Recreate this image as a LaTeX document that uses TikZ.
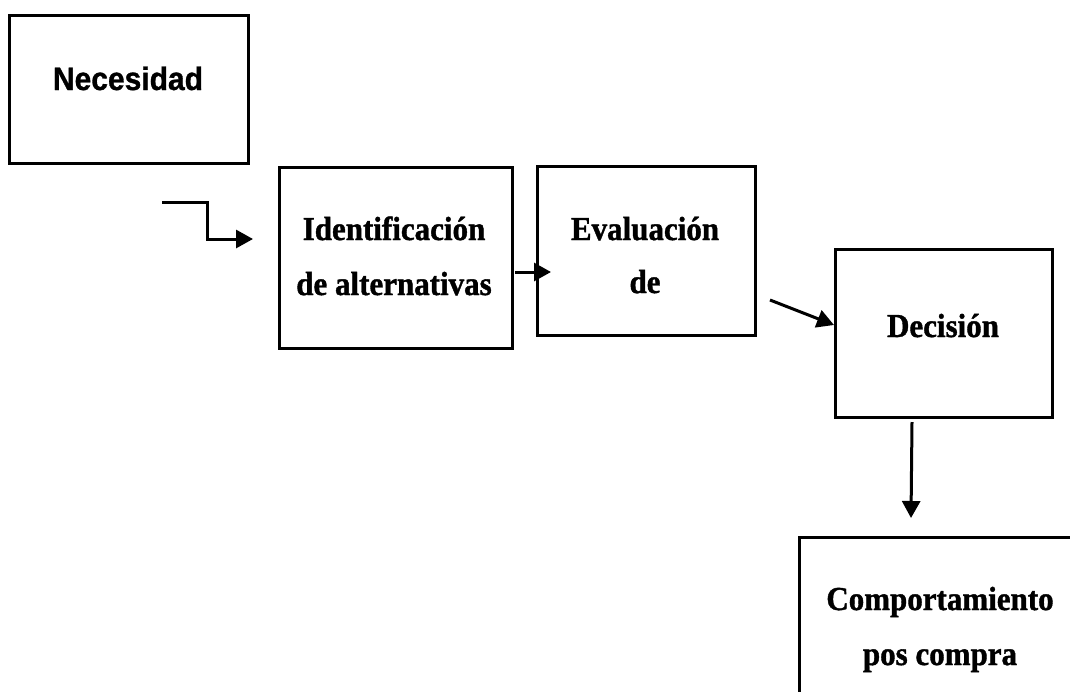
\documentclass[tikz,border=0pt]{standalone}
\usepackage{fontspec}
\usepackage{graphicx}
\setmainfont{Liberation Serif}[BoldFeatures={FakeBold=1.2}]
\newfontfamily\arialf{Liberation Sans}[BoldFeatures={FakeBold=1.0}]
\usetikzlibrary{arrows.meta}
\newcommand{\tallt}[1]{\scalebox{1}[1.08]{#1}}
\begin{document}
\begin{tikzpicture}[x=1pt,y=-1pt,
  box/.style={draw, line width=3pt, rectangle, inner sep=0pt},
  txt/.style={font=\fontsize{31}{54}\selectfont\bfseries, inner sep=0pt, align=center},
  stxt/.style={font=\arialf\fontsize{30}{36}\selectfont\bfseries, inner sep=0pt},
  arr/.style={line width=3pt, -{Triangle[length=17pt,width=18pt]}}]
\useasboundingbox (0,0) rectangle (1070,691);
\begin{scope}
\clip (0,0) rectangle (1070,691);
% boxes
\node[box, minimum width=239pt, minimum height=148pt] (nec) at (128.5,89) {};
\node[box, minimum width=233pt, minimum height=181pt] (ide) at (395.5,257.5) {};
\node[box, minimum width=218pt, minimum height=169pt] (eva) at (646,250.5) {};
\node[box, minimum width=217pt, minimum height=168pt] (dec) at (943.5,333) {};
\node[box, minimum width=300pt, minimum height=200pt] (com) at (949,637) {};
% texts
\node[stxt, anchor=base] (nect) at (128,90) {\tallt{Necesidad}};
\node[txt, anchor=base] (idet1) at (394,240) {\tallt{Identificación}};
\node[txt, anchor=base] (idet2) at (394,295) {\tallt{de alternativas}};
\node[txt, anchor=base] (evat1) at (645,240) {\tallt{Evaluación}};
\node[txt, anchor=base] (evat2) at (645,293) {\tallt{de}};
\node[txt, anchor=base] (dect) at (943,337) {\tallt{Decisión}};
\node[txt, anchor=base] (comt1) at (940,610) {\tallt{Comportamiento}};
\node[txt, anchor=base] (comt2) at (940,665) {\tallt{pos compra}};
% connector ends
\coordinate (a0) at (162,202);
\coordinate (a1) at (253,239);
\coordinate (b0) at (515,272);
\coordinate (b1) at (551,272);
\coordinate (c0) at (770,300);
\coordinate (c1) at (834,325);
\coordinate (d0) at (912,422);
\coordinate (d1) at (911,518);
% connectors
\draw[arr] (a0) -- (207,202) |- (a1);
\draw[arr] (b0) -- (b1);
\draw[arr] (c0) -- (c1);
\draw[arr] (d0) -- (d1);
\end{scope}
\end{tikzpicture}
\end{document}
